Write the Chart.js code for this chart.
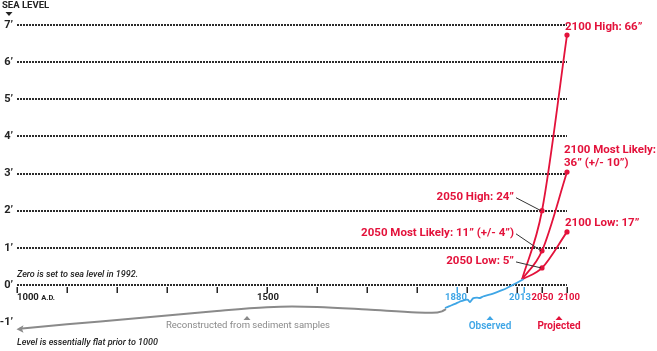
<!DOCTYPE html>
<html>
<head>
<meta charset="utf-8">
<script src="https://cdn.jsdelivr.net/npm/chart.js@4.4.0/dist/chart.umd.min.js"></script>
<style>
  html, body { margin: 0; padding: 0; background: #fff; }
  #wrap { width: 657px; height: 351px; }
</style>
</head>
<body>
<div id="wrap"><canvas id="seaChart" width="657" height="351"></canvas></div>
<script>
// sea level in feet, zero = 1992 level
const yTicks = [-1, 0, 1, 2, 3, 4, 5, 6, 7];
const xTickYears = [1000, 1100, 1200, 1300, 1400, 1500, 1600, 1700, 1800, 1880, 1900, 2000, 2013, 2050, 2100];

const reconstructedYears = [1005, 1100, 1200, 1300, 1400, 1500, 1550, 1600, 1700, 1800, 1830, 1850, 1858];
const reconstructedLevel = [-1.18, -1.06, -0.94, -0.82, -0.70, -0.60, -0.58, -0.59, -0.66, -0.74, -0.75, -0.71, -0.65];

const observedYears = [1856, 1865, 1876, 1885, 1890, 1897, 1902, 1906, 1912, 1920, 1926, 1932, 1945, 1960, 1970, 1980, 1990, 2000, 2008, 2013];
const observedLevel = [-0.62, -0.57, -0.51, -0.45, -0.43, -0.40, -0.40, -0.46, -0.36, -0.34, -0.35, -0.31, -0.26, -0.19, -0.14, -0.08, -0.01, 0.06, 0.12, 0.16];

const projectedYears = [2010, 2050, 2100];
const projectedHigh = [0.15, 2.0, 6.73];
const projectedLikely = [0.15, 0.92, 3.04];
const projectedLow = [0.15, 0.46, 1.43];

const RED = '#e3123b';
const BLUE = '#3fa6e6';
const GRAY = '#8a8a8a';
const INK = '#232323';
const FONT = 'Roboto, "Open Sans", sans-serif';

function pts(xs, ys) { return xs.map((x, i) => ({ x: x, y: ys[i] })); }

function tri(ctx, x, y, up, color) {
  ctx.fillStyle = color;
  ctx.beginPath();
  if (up) { ctx.moveTo(x - 3.5, y + 2); ctx.lineTo(x + 3.5, y + 2); ctx.lineTo(x, y - 2); }
  else { ctx.moveTo(x - 3.5, y - 2); ctx.lineTo(x + 3.5, y - 2); ctx.lineTo(x, y + 2); }
  ctx.closePath();
  ctx.fill();
}

const decorations = {
  id: 'decorations',
  afterDatasetsDraw(chart) {
    const ctx = chart.ctx;
    const xs = chart.scales.x, ys = chart.scales.y;
    const px = v => xs.getPixelForValue(v), py = v => ys.getPixelForValue(v);
    const y0 = py(0);
    ctx.save();

    // tick marks under the zero line
    xTickYears.forEach(yr => {
      ctx.strokeStyle = (yr === 1880 || yr === 2013) ? BLUE : INK;
      ctx.lineWidth = 1.5;
      ctx.beginPath();
      ctx.moveTo(Math.round(px(yr)) + 0.25, y0 + 2);
      ctx.lineTo(Math.round(px(yr)) + 0.25, y0 + 8);
      ctx.stroke();
    });

    // x labels
    ctx.textBaseline = 'middle';
    ctx.font = 'bold 9.5px ' + FONT;
    ctx.fillStyle = INK;
    ctx.textAlign = 'left';
    ctx.fillText('1000', px(1000), y0 + 13);
    const w1000 = ctx.measureText('1000 ').width;
    ctx.font = 'bold 7.5px ' + FONT;
    ctx.fillText('A.D.', px(1000) + w1000, y0 + 13.5);
    ctx.font = 'bold 9.5px ' + FONT;
    ctx.textAlign = 'center';
    ctx.fillText('1500', px(1500) + 1, y0 + 13);
    ctx.fillStyle = BLUE;
    ctx.fillText('1880', px(1878), y0 + 13);
    ctx.fillText('2013', px(2006), y0 + 13);
    ctx.fillStyle = RED;
    ctx.fillText('2050', px(2051), y0 + 13);
    ctx.fillText('2100', px(2104), y0 + 13);

    // arrow at the start of the reconstructed line
    const ax = px(reconstructedYears[0]), ay = py(reconstructedLevel[0]);
    ctx.fillStyle = GRAY;
    ctx.beginPath();
    ctx.moveTo(ax - 3, ay + 0.3);
    ctx.lineTo(ax + 4, ay - 3.5);
    ctx.lineTo(ax + 2.5, ay + 0.2);
    ctx.lineTo(ax + 4, ay + 3.8);
    ctx.closePath();
    ctx.fill();

    // series captions
    ctx.font = '9.5px ' + FONT;
    ctx.fillStyle = GRAY;
    ctx.fillText('Reconstructed from sediment samples', 248, 326);
    tri(ctx, 247, 318, true, GRAY);
    ctx.font = '600 10px ' + FONT;
    ctx.fillStyle = BLUE;
    ctx.fillText('Observed', 490, 326);
    tri(ctx, 490, 318, true, BLUE);
    ctx.font = 'bold 10px ' + FONT;
    ctx.fillStyle = RED;
    ctx.fillText('Projected', 559, 326);
    tri(ctx, 559, 318, true, RED);

    // notes
    ctx.textAlign = 'left';
    ctx.fillStyle = INK;
    ctx.font = 'italic 500 9px ' + FONT;
    ctx.fillText('Zero is set to sea level in 1992.', 17, 275);
    ctx.fillText('Level is essentially flat prior to 1000', 17, 343);

    // header
    ctx.font = 'bold 9.5px ' + FONT;
    ctx.fillText('SEA LEVEL', 2, 6);
    tri(ctx, 9, 14, false, INK);

    // projection labels
    ctx.font = 'bold 11.5px ' + FONT;
    ctx.fillStyle = RED;
    const hx = px(2100), lx = px(2050);
    ctx.textAlign = 'left';
    ctx.fillText('2100 High: 66\u201d', hx - 2, py(projectedHigh[2]) - 8);
    ctx.fillText('2100 Most Likely:', hx - 3, py(projectedLikely[2]) - 22);
    ctx.fillText('36\u201d (+/- 10\u201d)', hx - 3, py(projectedLikely[2]) - 9);
    ctx.fillText('2100 Low: 17\u201d', hx - 2, py(projectedLow[2]) - 9);
    ctx.textAlign = 'right';
    const lead = [
      ['2050 High: 24\u201d', projectedHigh[1], -14],
      ['2050 Most Likely: 11\u201d (+/- 4\u201d)', projectedLikely[1], -18],
      ['2050 Low: 5\u201d', projectedLow[1], -7]
    ];
    lead.forEach(([t, v, dy]) => {
      const ty = py(v) + dy;
      ctx.fillStyle = RED;
      ctx.fillText(t, lx - 28, ty);
      ctx.strokeStyle = '#333';
      ctx.lineWidth = 1;
      ctx.beginPath();
      ctx.moveTo(lx - 26, ty + 1);
      ctx.lineTo(lx - 1, py(v));
      ctx.stroke();
    });
    ctx.restore();
  }
};

const redLine = (data) => ({
  data: pts(projectedYears, data),
  borderColor: RED,
  backgroundColor: RED,
  borderWidth: 1.8,
  pointRadius: [0, 2.6, 2.6],
  pointBorderWidth: 0,
  cubicInterpolationMode: 'monotone',
  clip: false
});

new Chart(document.getElementById('seaChart'), {
  type: 'line',
  data: {
    datasets: [
      { data: pts(reconstructedYears, reconstructedLevel), borderColor: GRAY, borderWidth: 2, pointRadius: 0, cubicInterpolationMode: 'monotone', clip: false },
      { data: pts(observedYears, observedLevel), borderColor: BLUE, borderWidth: 1.8, pointRadius: 0, tension: 0.2, clip: false },
      redLine(projectedHigh),
      redLine(projectedLikely),
      redLine(projectedLow)
    ]
  },
  options: {
    responsive: false,
    animation: false,
    devicePixelRatio: 1,
    events: [],
    layout: { padding: { left: 0, top: 25, right: 90, bottom: 21.43 } },
    plugins: { legend: { display: false }, tooltip: { enabled: false } },
    scales: {
      x: { type: 'linear', min: 1000, max: 2100, display: false },
      y: {
        min: -1.2,
        max: 7,
        afterBuildTicks: s => { s.ticks = yTicks.map(v => ({ value: v })); },
        afterFit: s => { s.width = 17; },
        border: { display: false, dash: [2, 1] },
        grid: {
          drawTicks: false,
          lineWidth: 2,
          color: c => (c.tick && c.tick.value >= 0) ? '#2b2b2b' : 'rgba(0,0,0,0)'
        },
        ticks: {
          padding: 4,
          color: INK,
          font: { family: FONT, size: 11, weight: 'bold' },
          callback: v => v + '\u2019'
        }
      }
    }
  },
  plugins: [decorations]
});
</script>
</body>
</html>
